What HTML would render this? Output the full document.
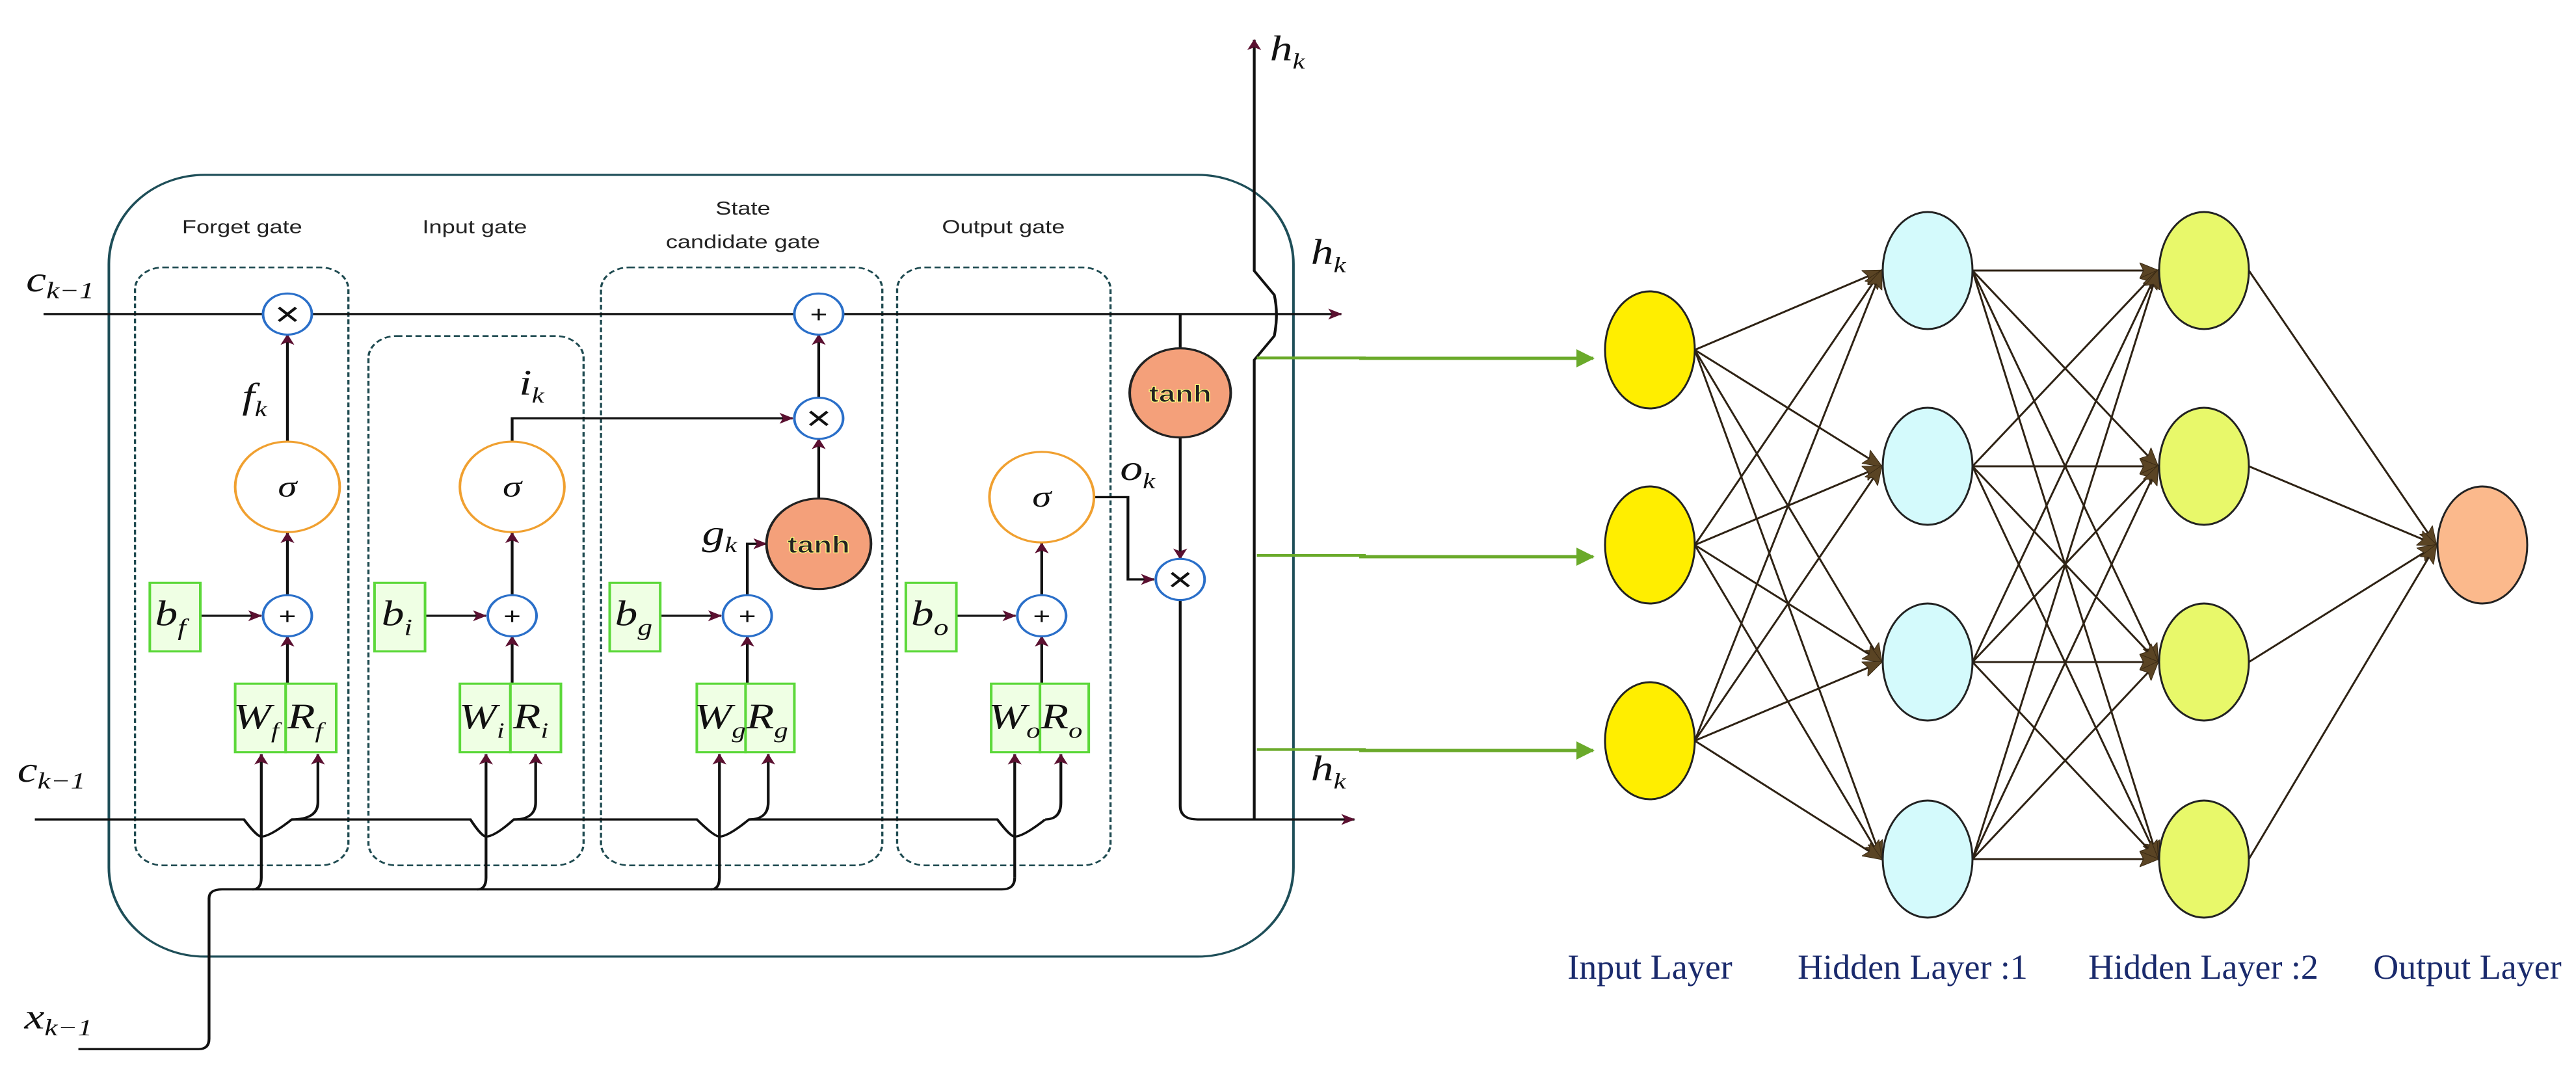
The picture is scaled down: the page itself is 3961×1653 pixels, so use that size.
<!DOCTYPE html>
<html><head><meta charset="utf-8"><style>
html,body{margin:0;padding:0;background:#fff;}
svg{display:block;}
.m{font-family:"Liberation Serif",serif;font-style:italic;fill:#111;}
.g{font-family:"Liberation Sans",sans-serif;fill:#222;}
.nl{font-family:"Liberation Serif",serif;fill:#1a2a6c;font-size:54px;}
</style></head><body>
<svg width="3961" height="1653" viewBox="0 0 3961 1653" xmlns="http://www.w3.org/2000/svg">
<defs>
<marker id="a" markerWidth="16" markerHeight="16" refX="15" refY="8" orient="auto" markerUnits="userSpaceOnUse" viewBox="0 0 16 16"><path d="M0,0 L16,8 L0,16 L4,8 z" fill="#5a1030"/></marker>
<marker id="ga" markerWidth="28" markerHeight="28" refX="26" refY="14" orient="auto" markerUnits="userSpaceOnUse" viewBox="0 0 28 28"><path d="M0,0 L28,14 L0,28 z" fill="#6aaa2a"/></marker>
<marker id="nb" markerWidth="30" markerHeight="30" refX="28" refY="15" orient="auto" markerUnits="userSpaceOnUse" viewBox="0 0 30 30"><path d="M0,3 L30,15 L0,27 L6,15 z" fill="#5a4424" stroke="#3a2a14" stroke-width="1"/></marker>
</defs>

<g transform="scale(1.3393,1.0544)">
<rect x="125" y="255" width="1360" height="1140" rx="110" ry="130" fill="none" stroke="#1e4e58" stroke-width="3"/>
<g fill="none" stroke="#1e4a50" stroke-width="2.5" stroke-dasharray="7,4">
<rect x="155" y="390" width="245" height="872" rx="32"/>
<rect x="423" y="490" width="247" height="772" rx="32"/>
<rect x="690" y="390" width="323" height="872" rx="32"/>
<rect x="1030" y="390" width="245" height="872" rx="32"/>
</g>
<g class="g" font-size="27" text-anchor="middle">
<text x="278" y="340">Forget gate</text>
<text x="545" y="340">Input gate</text>
<text x="853" y="313">State</text>
<text x="853" y="362">candidate gate</text>
<text x="1152" y="340">Output gate</text>
</g>
<g fill="none" stroke="#111" stroke-width="3.2">
<line x1="50" y1="458" x2="1540" y2="458" marker-end="url(#a)"/>
<path d="M1440,1195 L1440,525 L1463,490 Q1468,458 1463,430 L1440,395 L1440,58" marker-end="url(#a)"/>
<path d="M40,1195 L280,1195 Q295,1220 300,1220 Q310,1220 335,1195 L540,1195 Q553,1220 558,1220 Q568,1220 590,1195 L800,1195 Q820,1220 826,1220 Q836,1220 860,1195 L1145,1195 Q1160,1220 1165,1220 Q1175,1220 1200,1195"/>
<path d="M335,1195 Q365,1195 365,1170 L365,1100" marker-end="url(#a)"/>
<path d="M590,1195 Q615,1195 615,1170 L615,1100" marker-end="url(#a)"/>
<path d="M860,1195 Q882,1195 882,1170 L882,1100" marker-end="url(#a)"/>
<path d="M1200,1195 Q1218,1195 1218,1170 L1218,1100" marker-end="url(#a)"/>
<path d="M90,1530 L228,1530 Q240,1530 240,1515 L240,1310 Q240,1297 255,1297 L1150,1297 Q1165,1297 1165,1280"/>
<path d="M290,1297 Q300,1297 300,1280 L300,1100" marker-end="url(#a)"/>
<path d="M548,1297 Q558,1297 558,1280 L558,1100" marker-end="url(#a)"/>
<path d="M816,1297 Q826,1297 826,1280 L826,1100" marker-end="url(#a)"/>
<path d="M1165,1280 L1165,1100" marker-end="url(#a)"/>
<line x1="330" y1="996" x2="330" y2="928" marker-end="url(#a)"/>
<line x1="588" y1="996" x2="588" y2="928" marker-end="url(#a)"/>
<line x1="858" y1="996" x2="858" y2="928" marker-end="url(#a)"/>
<line x1="1196" y1="996" x2="1196" y2="928" marker-end="url(#a)"/>
<line x1="231" y1="898" x2="300" y2="898" marker-end="url(#a)"/>
<line x1="489" y1="898" x2="558" y2="898" marker-end="url(#a)"/>
<line x1="759" y1="898" x2="828" y2="898" marker-end="url(#a)"/>
<line x1="1099" y1="898" x2="1166" y2="898" marker-end="url(#a)"/>
<line x1="330" y1="868" x2="330" y2="777" marker-end="url(#a)"/>
<line x1="588" y1="868" x2="588" y2="777" marker-end="url(#a)"/>
<line x1="1196" y1="868" x2="1196" y2="792" marker-end="url(#a)"/>
<line x1="330" y1="643" x2="330" y2="488" marker-end="url(#a)"/>
<path d="M588,643 L588,610 L910,610" marker-end="url(#a)"/>
<path d="M858,868 L858,793 L880,793" marker-end="url(#a)"/>
<line x1="940" y1="727" x2="940" y2="640" marker-end="url(#a)"/>
<line x1="940" y1="580" x2="940" y2="488" marker-end="url(#a)"/>
<path d="M1256,725 L1295,725 L1295,845 L1325,845" marker-end="url(#a)"/>
<line x1="1355" y1="458" x2="1355" y2="508"/>
<line x1="1355" y1="638" x2="1355" y2="815" marker-end="url(#a)"/>
<path d="M1355,873 L1355,1175 Q1355,1195 1375,1195 L1555,1195" marker-end="url(#a)"/>
</g>
<g stroke="#6aaa2a" stroke-width="4">
<line x1="1443" y1="522" x2="1568" y2="522"/>
<line x1="1443" y1="810" x2="1568" y2="810"/>
<line x1="1443" y1="1093" x2="1568" y2="1093"/>
</g>
<g fill="#fff" stroke="#2a6fc9" stroke-width="3">
<ellipse cx="330" cy="458" rx="28" ry="30"/>
<ellipse cx="330" cy="898" rx="28" ry="30"/>
<ellipse cx="588" cy="898" rx="28" ry="30"/>
<ellipse cx="858" cy="898" rx="28" ry="30"/>
<ellipse cx="1196" cy="898" rx="28" ry="30"/>
<ellipse cx="940" cy="458" rx="28" ry="30"/>
<ellipse cx="940" cy="610" rx="28" ry="30"/>
<ellipse cx="1355" cy="845" rx="28" ry="30"/>
</g>
<g fill="#fff" stroke="#f0a030" stroke-width="3">
<ellipse cx="330" cy="710" rx="60" ry="66"/>
<ellipse cx="588" cy="710" rx="60" ry="66"/>
<ellipse cx="1196" cy="725" rx="60" ry="66"/>
</g>
<g fill="#f4a07a" stroke="#222" stroke-width="3">
<ellipse cx="940" cy="793" rx="60" ry="66"/>
<ellipse cx="1355" cy="573" rx="58" ry="65"/>
</g>
<g class="g" font-size="34" text-anchor="middle" font-weight="bold" fill="#111" stroke="#ffff80" stroke-width="1">
<text x="940" y="806">tanh</text>
<text x="1355" y="586">tanh</text>
</g>
<g font-family="Liberation Sans,sans-serif" font-size="50" text-anchor="middle" fill="#111">
<text x="330" y="475">×</text><text x="940" y="627">×</text><text x="1355" y="862">×</text>
</g>
<g font-family="Liberation Sans,sans-serif" font-size="34" text-anchor="middle" fill="#111">
<text x="330" y="910">+</text><text x="588" y="910">+</text><text x="858" y="910">+</text><text x="1196" y="910">+</text><text x="940" y="470">+</text>
</g>
<g class="m" font-size="44" text-anchor="middle">
<text x="330" y="724">σ</text><text x="588" y="724">σ</text><text x="1196" y="739">σ</text>
</g>
<g fill="#efffe4" stroke="#5cd83a" stroke-width="3">
<rect x="172" y="850" width="58" height="100"/><rect x="430" y="850" width="58" height="100"/>
<rect x="700" y="850" width="58" height="100"/><rect x="1040" y="850" width="58" height="100"/>
<rect x="270" y="997" width="58" height="100"/><rect x="328" y="997" width="58" height="100"/>
<rect x="528" y="997" width="58" height="100"/><rect x="586" y="997" width="58" height="100"/>
<rect x="800" y="997" width="56" height="100"/><rect x="856" y="997" width="56" height="100"/>
<rect x="1138" y="997" width="56" height="100"/><rect x="1194" y="997" width="56" height="100"/>
</g>
<g class="m" font-size="52">
<text x="178" y="912">b<tspan font-size="34" dy="14">f</tspan></text>
<text x="438" y="912">b<tspan font-size="34" dy="14">i</tspan></text>
<text x="706" y="912">b<tspan font-size="34" dy="14">g</tspan></text>
<text x="1046" y="912">b<tspan font-size="34" dy="14">o</tspan></text>
<text x="268" y="1062">W<tspan font-size="32" dy="14">f</tspan></text>
<text x="330" y="1062">R<tspan font-size="32" dy="14">f</tspan></text>
<text x="527" y="1062">W<tspan font-size="32" dy="14">i</tspan></text>
<text x="589" y="1062">R<tspan font-size="32" dy="14">i</tspan></text>
<text x="797" y="1062">W<tspan font-size="32" dy="14">g</tspan></text>
<text x="857" y="1062">R<tspan font-size="32" dy="14">g</tspan></text>
<text x="1135" y="1062">W<tspan font-size="32" dy="14">o</tspan></text>
<text x="1195" y="1062">R<tspan font-size="32" dy="14">o</tspan></text>
<text x="278" y="595">f<tspan font-size="32" dy="12">k</tspan></text>
<text x="596" y="575">i<tspan font-size="32" dy="12">k</tspan></text>
<text x="806" y="795">g<tspan font-size="32" dy="10">k</tspan></text>
<text x="1286" y="700">o<tspan font-size="32" dy="12">k</tspan></text>
<text x="30" y="425">c<tspan font-size="34" dy="10">k−1</tspan></text>
<text x="20" y="1140">c<tspan font-size="34" dy="10">k−1</tspan></text>
<text x="28" y="1500">x<tspan font-size="34" dy="10">k−1</tspan></text>
<text x="1458" y="88">h<tspan font-size="32" dy="12">k</tspan></text>
<text x="1505" y="385">h<tspan font-size="32" dy="12">k</tspan></text>
<text x="1505" y="1138">h<tspan font-size="32" dy="12">k</tspan></text>
</g>
</g>

<g stroke="#6aaa2a" stroke-width="5" fill="none">
<line x1="2090" y1="551" x2="2450" y2="551" marker-end="url(#ga)"/>
<line x1="2090" y1="856" x2="2450" y2="856" marker-end="url(#ga)"/>
<line x1="2090" y1="1154" x2="2450" y2="1154" marker-end="url(#ga)"/>
</g>

<g stroke="#2e2214" stroke-width="3" fill="none">
<g marker-end="url(#nb)">
<line x1="2606" y1="538" x2="2893" y2="416"/><line x1="2606" y1="538" x2="2893" y2="717"/><line x1="2606" y1="538" x2="2893" y2="1018"/><line x1="2606" y1="538" x2="2893" y2="1321"/>
<line x1="2606" y1="838" x2="2893" y2="416"/><line x1="2606" y1="838" x2="2893" y2="717"/><line x1="2606" y1="838" x2="2893" y2="1018"/><line x1="2606" y1="838" x2="2893" y2="1321"/>
<line x1="2606" y1="1139" x2="2893" y2="416"/><line x1="2606" y1="1139" x2="2893" y2="717"/><line x1="2606" y1="1139" x2="2893" y2="1018"/><line x1="2606" y1="1139" x2="2893" y2="1321"/>
</g>
<g marker-end="url(#nb)">
<line x1="3033" y1="416" x2="3318" y2="416"/><line x1="3033" y1="416" x2="3318" y2="717"/><line x1="3033" y1="416" x2="3318" y2="1018"/><line x1="3033" y1="416" x2="3318" y2="1321"/>
<line x1="3033" y1="717" x2="3318" y2="416"/><line x1="3033" y1="717" x2="3318" y2="717"/><line x1="3033" y1="717" x2="3318" y2="1018"/><line x1="3033" y1="717" x2="3318" y2="1321"/>
<line x1="3033" y1="1018" x2="3318" y2="416"/><line x1="3033" y1="1018" x2="3318" y2="717"/><line x1="3033" y1="1018" x2="3318" y2="1018"/><line x1="3033" y1="1018" x2="3318" y2="1321"/>
<line x1="3033" y1="1321" x2="3318" y2="416"/><line x1="3033" y1="1321" x2="3318" y2="717"/><line x1="3033" y1="1321" x2="3318" y2="1018"/><line x1="3033" y1="1321" x2="3318" y2="1321"/>
</g>
<g marker-end="url(#nb)">
<line x1="3458" y1="416" x2="3746" y2="838"/><line x1="3458" y1="717" x2="3746" y2="838"/><line x1="3458" y1="1018" x2="3746" y2="838"/><line x1="3458" y1="1321" x2="3746" y2="838"/>
</g>
</g>
<g stroke="#222" stroke-width="3">
<g fill="#ffee00"><ellipse cx="2537" cy="538" rx="69" ry="90"/><ellipse cx="2537" cy="838" rx="69" ry="90"/><ellipse cx="2537" cy="1139" rx="69" ry="90"/></g>
<g fill="#d4fafc"><ellipse cx="2964" cy="416" rx="69" ry="90"/><ellipse cx="2964" cy="717" rx="69" ry="90"/><ellipse cx="2964" cy="1018" rx="69" ry="90"/><ellipse cx="2964" cy="1321" rx="69" ry="90"/></g>
<g fill="#e8f86a"><ellipse cx="3389" cy="416" rx="69" ry="90"/><ellipse cx="3389" cy="717" rx="69" ry="90"/><ellipse cx="3389" cy="1018" rx="69" ry="90"/><ellipse cx="3389" cy="1321" rx="69" ry="90"/></g>
<ellipse cx="3817" cy="838" rx="69" ry="90" fill="#fbb98c"/>
</g>
<g class="nl" text-anchor="middle">
<text x="2537" y="1505">Input Layer</text>
<text x="2941" y="1505">Hidden Layer :1</text>
<text x="3388" y="1505">Hidden Layer :2</text>
<text x="3794" y="1505">Output Layer</text>
</g>
</svg>
</body></html>
